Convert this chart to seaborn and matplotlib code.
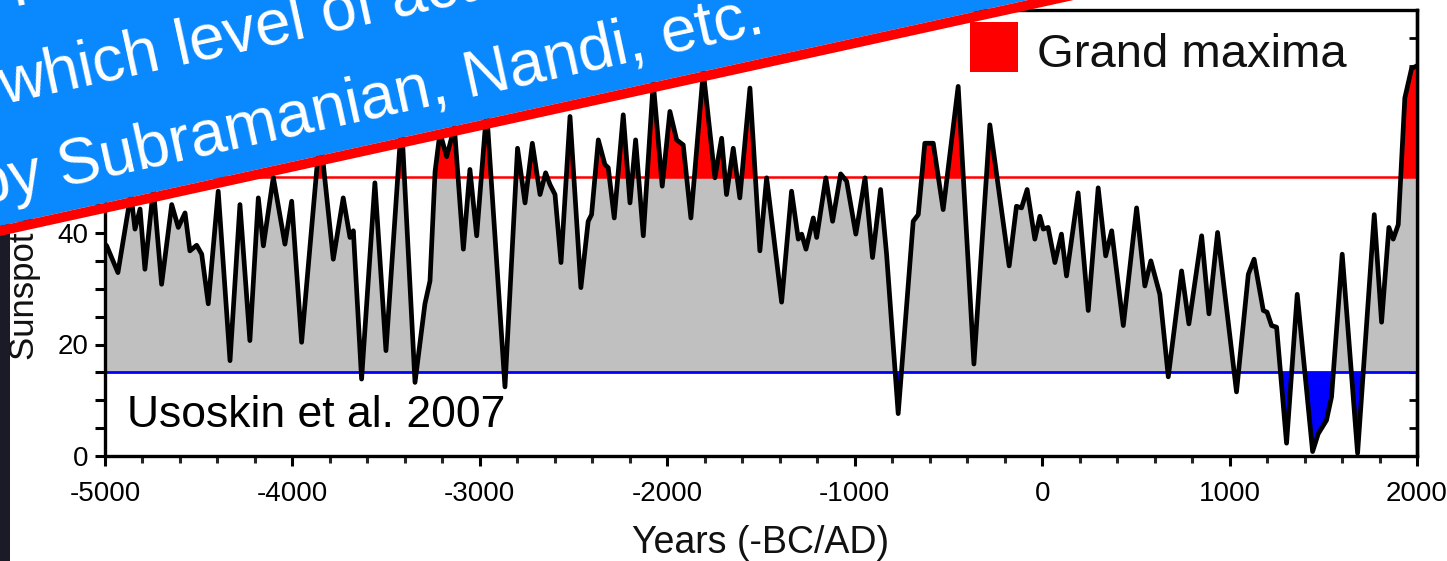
import numpy as np
import matplotlib
matplotlib.use("Agg")
import matplotlib.pyplot as plt
import seaborn as sns
from matplotlib.patches import Polygon, Rectangle
from matplotlib.ticker import MultipleLocator

# ---------------- data ----------------
years = [
    -5000, -4991, -4931, -4862, -4840, -4813, -4787, -4742, -4698, -4644, -4609, -4573,
    -4547, -4511, -4484, -4449, -4396, -4333, -4280, -4227, -4182, -4155, -4102, -4040,
    -4004, -3951, -3853, -3782, -3729, -3693, -3675, -3631, -3560, -3501, -3418, -3346,
    -3293, -3266, -3239, -3213, -3177, -3136, -3088, -3053, -3017, -2964, -2866, -2799,
    -2759, -2720, -2679, -2649, -2626, -2599, -2567, -2519, -2461, -2422, -2404, -2368,
    -2333, -2315, -2283, -2235, -2199, -2169, -2128, -2075, -2027, -1986, -1950, -1915,
    -1874, -1808, -1746, -1710, -1684, -1648, -1613, -1559,
    -1506, -1470, -1390, -1337, -1301, -1283, -1260, -1221, -1203, -1154, -1118, -1075,
    -1043, -994, -945, -905, -862, -830, -768, -688, -661, -626, -581, -528, -448, -364,
    -279, -176, -137, -110, -80, -39, -12, 6, 32, 68, 103, 130, 192,
    246, 299, 339, 371, 433, 504, 548, 580, 628, 673, 744, 783, 851, 890, 936, 1037,
    1100, 1131, 1180, 1200, 1224, 1251, 1304, 1361, 1443, 1473, 1517, 1544, 1601, 1683,
    1772, 1811, 1850, 1873, 1900, 1935, 1971, 2000,
]
sunspots = [
    38, 37.7, 32.9, 47, 40.7, 44.3, 33.5, 48, 30.8, 45.1, 41, 43.6,
    36.8, 37.8, 36.2, 27.3, 47.5, 17.1, 45.1, 20.7, 46.3, 37.7, 50, 38,
    45.7, 20.4, 58, 35.3, 46.3, 39.2, 40.4, 13.8, 49, 18.9, 60, 13.2,
    27.3, 31.4, 51, 58, 53.7, 59, 37.1, 51.4, 39.5, 62, 12.4, 55.2,
    45.4, 56.1, 46.9, 50.8, 48.7, 46.9, 34.7, 60.9, 30.2, 42.1, 43.3, 56.7,
    52.3, 51.7, 42.7, 61.2, 45.4, 56.7, 39.5, 67, 48.4, 61.8, 56.7, 55.8,
    42.7, 69, 49.9, 57, 46.9, 55.2, 46.3, 66,
    36.8, 49.9, 27.6, 47.5, 38.9, 39.8, 37.1, 42.7, 39.2, 49.9, 42.1, 50.6,
    49.3, 39.8, 49.9, 35.6, 47.8, 36.2, 7.6, 42.1, 43.3, 56.1, 56.1, 44.2, 66.3, 16.5,
    59.4, 34.1, 44.8, 44.5, 47.8, 38.9, 43.0, 40.7, 41, 34.7, 39.8, 32.3, 47.2,
    26.1, 48.1, 35.9, 40.4, 23.4, 44.5, 30.5, 35, 29, 14.2, 33.2, 23.7, 39.5, 25.5, 40.1, 11.5,
    32.6, 35.3, 26.1, 25.8, 23.4, 23.1, 2.3, 29, 0.8, 4, 6.4, 10.6, 36.2, 0.5,
    43.3, 24, 41, 38.9, 41.5, 64.2, 69.5, 70,
]
x_ticks = [-5000, -4000, -3000, -2000, -1000, 0, 1000, 2000]
x_tick_labels = ["-5000", "-4000", "-3000", "-2000", "-1000", "0", "1000", "2000"]
y_ticks = [0, 20, 40, 60, 80]
y_tick_labels = ["0", "20", "40", "60", "80"]
grand_max_level = 50
grand_min_level = 15
x_label = "Years (-BC/AD)"
y_label = "Sunspot number"
legend_label = "Grand maxima"
source_label = "Usoskin et al. 2007"
banner_lines = ["The question is at", "which level of activity", "by Subramanian, Nandi, etc."]

# ---------------- style ----------------
sns.set_theme(style="white")
plt.rcParams["font.family"] = ["Liberation Sans", "DejaVu Sans"]

W, H = 1447, 561
fig = plt.figure(figsize=(W / 100, H / 100), dpi=100)
fig.patch.set_facecolor("white")


def fp(px, py):
    """pixel (from top-left) -> figure fraction"""
    return (px / W, 1 - py / H)


ax = fig.add_axes([105 / W, 1 - 456 / H, 1312 / W, 446 / H])
ax.set_facecolor("white")

x = np.array(years, dtype=float)
y = np.array(sunspots, dtype=float)

ax.fill_between(x, grand_min_level, y, where=y >= grand_min_level, interpolate=True,
                color="#c0c0c0", lw=0, zorder=1)
ax.fill_between(x, grand_max_level, y, where=y >= grand_max_level, interpolate=True,
                color="#ff0000", lw=0, zorder=1.5)
ax.fill_between(x, y, grand_min_level, where=y <= grand_min_level, interpolate=True,
                color="#0000ff", lw=0, zorder=1.5)
ax.axhline(grand_max_level, color="#ff0000", lw=1.8, zorder=2)
ax.axhline(grand_min_level, color="#0000ff", lw=2.0, zorder=2)
sns.lineplot(x=x, y=y, color="black", lw=3.4, ax=ax, zorder=3, sort=False,
             solid_joinstyle="round", solid_capstyle="round")

ax.set_xlim(-5000, 2000)
ax.set_ylim(0, 80)
ax.set_xticks(x_ticks)
ax.set_xticklabels(x_tick_labels)
ax.set_yticks(y_ticks)
ax.set_yticklabels(y_tick_labels)
ax.xaxis.set_minor_locator(MultipleLocator(200))
ax.yaxis.set_minor_locator(MultipleLocator(5))
ax.tick_params(axis="x", which="major", direction="out", length=7, width=2.2,
               bottom=True, top=False, labelsize=20, pad=11, colors="black")
ax.tick_params(axis="x", which="minor", direction="out", length=5, width=2.2,
               bottom=True, top=False)
ax.tick_params(axis="y", which="both", direction="out", length=7, width=2.2,
               left=True, right=False, labelsize=20, pad=5, colors="black")

sec = ax.secondary_yaxis("right")
sec.set_yticks(np.arange(0, 81, 5))
sec.set_yticklabels([])
sec.tick_params(axis="y", direction="in", length=6, width=2.0, colors="black")
sec.spines["right"].set_linewidth(2.4)
sec.spines["right"].set_color("black")

for s in ax.spines.values():
    s.set_linewidth(2.4)
    s.set_color("black")

ax.set_xlabel(x_label, fontsize=27, labelpad=13, color="#111111")
ax.set_ylabel(y_label, fontsize=25, labelpad=12, color="#111111")

# legend-like annotations
ax.add_patch(Rectangle((0.659, 0.861), 0.0366, 0.112, transform=ax.transAxes,
                       facecolor="#ff0000", edgecolor="none", zorder=4))
ax.text(0.710, 0.872, legend_label, transform=ax.transAxes, fontsize=34,
        ha="left", va="baseline", color="#111111", zorder=4)
ax.text(0.0168, 0.065, source_label, transform=ax.transAxes, fontsize=32,
        ha="left", va="baseline", color="black", zorder=4)

# dark strip on the far left
fig.add_artist(Rectangle((0, 0), 10 / W, 1, transform=fig.transFigure,
                         facecolor="#1b1b28", edgecolor="none", zorder=5))

# rotated banner
slope = 0.2198
angle = np.degrees(np.arctan(slope))


def y_low(px):
    return 236 - slope * px


xa, xb = -30, 1250
red_poly = [fp(xa, y_low(xa)), fp(xb, y_low(xb)), fp(xb, y_low(xb) - 10), fp(xa, y_low(xa) - 10)]
blue_poly = [fp(xa, y_low(xa) - 10), fp(xb, y_low(xb) - 10), fp(xb, -500), fp(xa, -500)]
fig.add_artist(Polygon(blue_poly, closed=True, transform=fig.transFigure,
                       facecolor="#0a88fe", edgecolor="none", zorder=10))
fig.add_artist(Polygon(red_poly, closed=True, transform=fig.transFigure,
                       facecolor="#ff0000", edgecolor="none", zorder=10))

for (px, py), txt in zip([(3, 9), (3, 104), (-21, 205)], banner_lines):
    fig.text(*fp(px, py), txt, rotation=angle, rotation_mode="anchor",
             ha="left", va="baseline", fontsize=46, color="white", zorder=11)

fig.savefig("out.png", dpi=100)
